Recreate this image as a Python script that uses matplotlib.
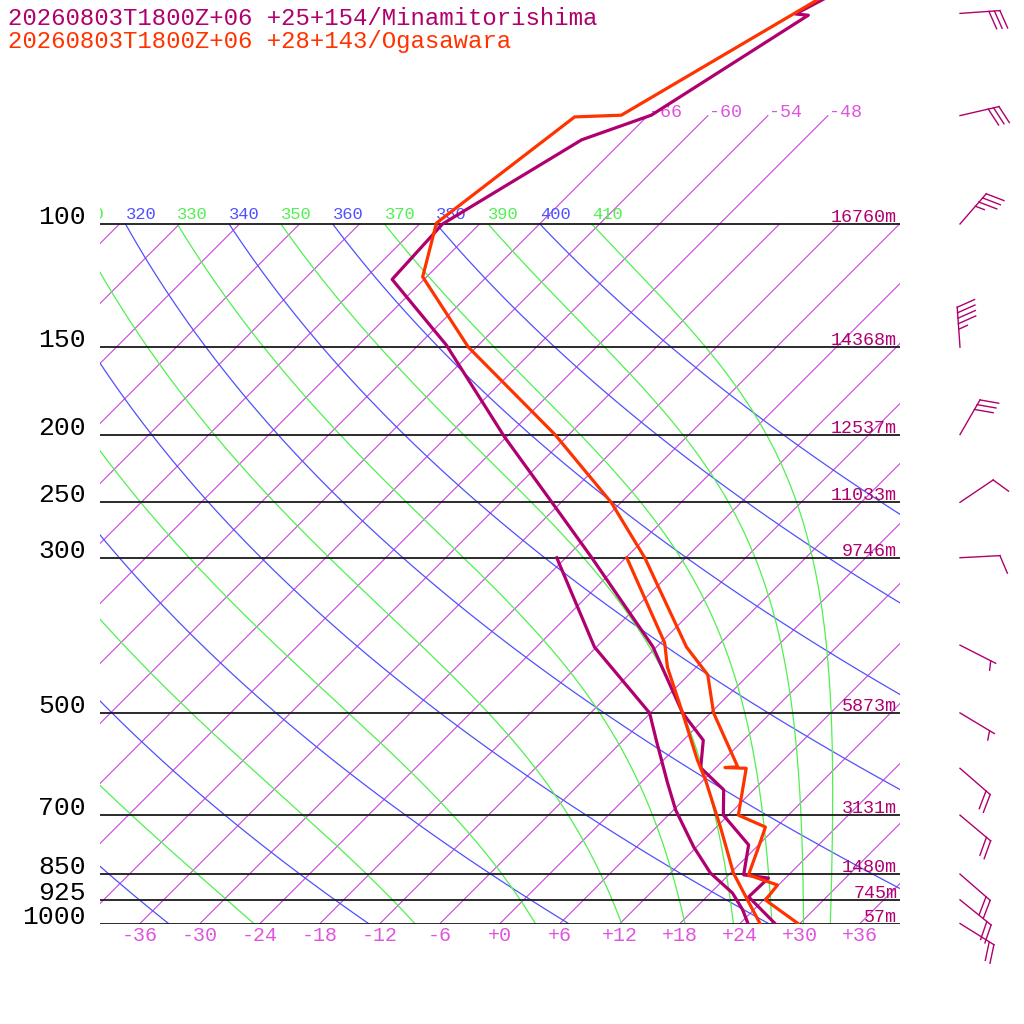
import numpy as np
import matplotlib
matplotlib.use("Agg")
import matplotlib.pyplot as plt
from matplotlib.transforms import blended_transform_factory

plt.rcParams["font.family"] = ["Liberation Mono", "DejaVu Sans Mono"]

PURPLE = "#b0006f"
RED = "#ff3300"
BLUE = "#5050ff"
GREEN = "#50f050"
ISO = "#cc44dd"
ISO_TXT = "#dd55dd"

# mandatory levels and the Minamitorishima heights
levels = [100, 150, 200, 250, 300, 500, 700, 850, 925, 1000]
heights = ["16760m", "14368m", "12537m", "11033m", "9746m",
           "5873m", "3131m", "1480m", "745m", "57m"]

# Minamitorishima: temperature / dewpoint (hPa, degC)
mt_p = [46, 50.1, 50.3, 69.9, 75.8, 100, 120, 149, 201.6, 250.6, 300, 402,
        500, 547, 599, 644, 700, 772, 852, 861, 916, 1000]
mt_t = [-59.1, -61.4, -60.0, -65.7, -70.2, -75.7, -75.2, -63.2, -48.2, -36.8,
        -27.4, -12.4, -2.8, 2.0, 4.5, 9.0, 11.5, 17.0, 19.5, 22.3, 22.2, 27.5]
mt_dp = [300, 402.5, 500, 547, 628, 688, 777, 847, 904.5, 956, 1000]
mt_td = [-30.9, -18.2, -6.1, -2.7, 2.6, 6.2, 11.7, 16.0, 20.2, 22.9, 24.8]

# Ogasawara: temperature / dewpoint
og_p = [46, 69.9, 70.3, 99.7, 119, 150, 200, 250, 300, 402.5, 441, 500,
        597, 598.5, 600, 700, 728, 777, 852.5, 881, 925.6, 1000]
og_t = [-59.8, -68.7, -73.2, -76.4, -72.4, -60.8, -43.4, -31.0, -22.1, -9.0,
        -4.1, 0.3, 8.1, 6.9, 9.1, 13.0, 16.9, 18.2, 20.0, 23.9, 24.2, 29.8]
og_dp = [300, 397, 430, 500, 584, 623.5, 728, 847, 925.6, 1000]
og_td = [-23.9, -11.6, -8.9, -2.8, 3.4, 6.2, 12.4, 18.3, 22.4, 26.0]

# Minamitorishima winds (direction from, knots)
wind_p = [50, 70, 100, 150, 200, 250, 300, 400, 500, 600, 700, 850, 925, 1000]
wind_dir = [86, 77, 41, 356, 30, 56, 87, 117, 121, 131, 130, 131, 129, 122]
wind_kt = [30, 30, 35, 45, 30, 10, 10, 5, 5, 20, 20, 20, 20, 20]

# background lines
iso_temps = list(range(-108, 37, 6))
iso_upper = [-66, -60, -54, -48]
dry_thetas = list(range(240, 401, 20))
moist_thetas = list(range(250, 411, 20))
ticks = list(range(-36, 37, 6))

KAPPA = 0.2857
SKEW = 30.38
P_TOP = 1000 * np.exp(-923.5 / 303.8)


def skx(t, p):
    return np.asarray(t, float) + SKEW * np.log(1000.0 / np.asarray(p, float))


def moist_rate(T, p):
    Rd, cp, Lv, eps = 287.04, 1005.7, 2.501e6, 0.622
    es = 6.112 * np.exp(17.67 * (T - 273.15) / (T - 29.65))
    rs = eps * es / (p - es)
    return (Rd * T + Lv * rs) / (p * (cp + Lv ** 2 * rs * eps / (Rd * T ** 2)))


def moist_adiabat(theta):
    ps = np.geomspace(100, 1000, 300)
    T = theta * 0.1 ** KAPPA
    out = [T]
    for p0, p1 in zip(ps[:-1], ps[1:]):
        h = p1 - p0
        k1 = moist_rate(T, p0)
        k2 = moist_rate(T + h * k1 / 2, p0 + h / 2)
        k3 = moist_rate(T + h * k2 / 2, p0 + h / 2)
        k4 = moist_rate(T + h * k3, p1)
        T = T + h * (k1 + 2 * k2 + 2 * k3 + k4) / 6
        out.append(T)
    return ps, np.array(out) - 273.15


fig = plt.figure(figsize=(10.24, 10.24), dpi=100)
ax = fig.add_axes([100 / 1024, 1 - 923.5 / 1024, 800 / 1024, 923.5 / 1024])
ax.set_yscale("log")
ax.set_ylim(1000, P_TOP)
ax.set_xlim(-40, 40)
for s in ax.spines.values():
    s.set_visible(False)
ax.set_yticks([])
ax.minorticks_off()
ax.set_xticks(ticks)
ax.set_xticklabels([f"{t:+d}" for t in ticks])
ax.tick_params(axis="x", length=0, pad=2, labelsize=14.4, labelcolor=ISO_TXT)

# isotherms
for t in iso_temps:
    top = 70 if t in iso_upper else 100
    pp = np.array([1000, top])
    ax.plot(skx([t, t], pp), pp, color=ISO, lw=0.8, zorder=1)

# dry adiabats
pp = np.geomspace(1000, 100, 120)
for th in dry_thetas:
    tt = th * (pp / 1000) ** KAPPA - 273.15
    ax.plot(skx(tt, pp), pp, color=BLUE, lw=0.9, zorder=1)

# moist adiabats
for th in moist_thetas:
    mp, mt = moist_adiabat(th)
    ax.plot(skx(mt, mp), mp, color=GREEN, lw=0.9, zorder=1)

# pressure lines
ax.hlines(levels, -40, 40, color="#1a1a1a", lw=1.3, zorder=2)

# adiabat labels along the 100 hPa line
labels = [(th, BLUE) for th in dry_thetas if th >= 320] + \
         [(th, GREEN) for th in moist_thetas if th >= 310]
for th, col in labels:
    x = skx(th * 0.1 ** KAPPA - 273.15, 100)
    txt = ax.annotate(str(th), (x, 100), xytext=(0, 5), textcoords="offset pixels",
                      ha="left", va="baseline", fontsize=12.3, color=col,
                      annotation_clip=False, zorder=3)
    txt.set_clip_on(True)
    txt.set_clip_box(ax.bbox)

# isotherm labels at the top
for t in iso_upper:
    ax.annotate(f"{t:d}", (skx(t, 70), 70), xytext=(1, -1), textcoords="offset pixels",
                ha="left", va="baseline", fontsize=13.2, color=ISO_TXT)

# pressure and height labels
bt = blended_transform_factory(ax.transAxes, ax.transData)
for p, h in zip(levels, heights):
    ax.text(-0.0175, p, str(p), transform=bt, ha="right", va="baseline",
            fontsize=19, color="black")
    ax.annotate(h, (0.9965, p), xycoords=bt, xytext=(0, 2), textcoords="offset pixels",
                ha="right", va="baseline", fontsize=13.2, color=PURPLE)

# soundings
ax.plot(skx(mt_t, mt_p), mt_p, color=PURPLE, lw=2.3, zorder=4)
ax.plot(skx(mt_td, mt_dp), mt_dp, color=PURPLE, lw=2.3, zorder=4)
ax.plot(skx(og_t, og_p), og_p, color=RED, lw=2.3, zorder=5)
ax.plot(skx(og_td, og_dp), og_dp, color=RED, lw=2.3, zorder=5)

# titles
fig.text(8 / 1024, 1 - 25 / 1024, "20260803T1800Z+06 +25+154/Minamitorishima",
         fontsize=17.3, color=PURPLE, va="baseline")
fig.text(8 / 1024, 1 - 48 / 1024, "20260803T1800Z+06 +28+143/Ogasawara",
         fontsize=17.3, color=RED, va="baseline")

# wind barbs in a pixel overlay
bax = fig.add_axes([0, 0, 1, 1], facecolor="none")
bax.set_xlim(0, 1024)
bax.set_ylim(0, 1024)
bax.axis("off")
STAFF, LONG, SHORT, GAP = 40.0, 19.0, 9.5, 5.5
rot = np.radians(70)
for p, d, s in zip(wind_p, wind_dir, wind_kt):
    by = ax.transData.transform((0, p))[1]
    bx = 960.0
    a = np.radians(d)
    ux, uy = np.sin(a), np.cos(a)
    fx = ux * np.cos(rot) + uy * np.sin(rot)
    fy = -ux * np.sin(rot) + uy * np.cos(rot)
    tx, ty = bx + STAFF * ux, by + STAFF * uy
    bax.plot([bx, tx], [by, ty], color=PURPLE, lw=1.0)
    n_long = s // 10
    half = (s % 10) >= 5
    feathers = [LONG] * n_long + ([SHORT] if half else [])
    start = 1 if n_long == 0 else 0
    for i, ln in enumerate(feathers):
        ox = tx - (i + start) * GAP * ux
        oy = ty - (i + start) * GAP * uy
        bax.plot([ox, ox + ln * fx], [oy, oy + ln * fy], color=PURPLE, lw=1.0)

fig.savefig("out.png", dpi=100)
